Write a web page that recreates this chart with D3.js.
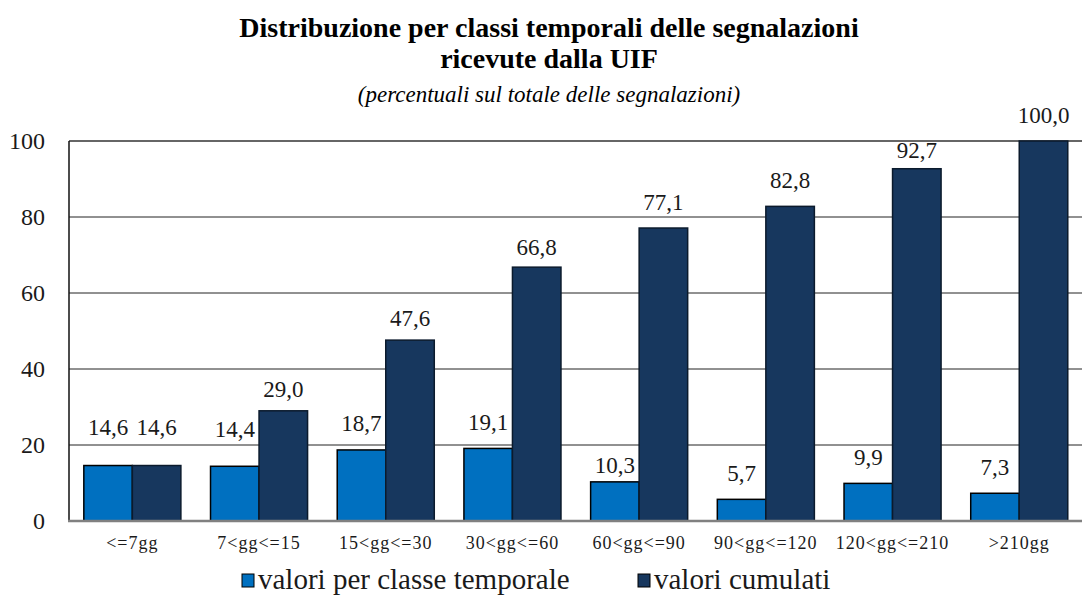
<!DOCTYPE html>
<html>
<head>
    <meta charset="utf-8">
    <script src="https://d3js.org/d3.v7.min.js"></script>
</head>
<body style="margin:0;background:#fff">
<svg id="chart" width="1082" height="599" font-family="'Liberation Serif', 'Times New Roman', Times, serif"></svg>
<script>
    // chart data
    const categories = ["<=7gg", "7<gg<=15", "15<gg<=30", "30<gg<=60", "60<gg<=90", "90<gg<=120", "120<gg<=210", ">210gg"];
    const seriesNames = ["valori per classe temporale", "valori cumulati"];
    const perClass = [14.6, 14.4, 18.7, 19.1, 10.3, 5.7, 9.9, 7.3];
    const cumulative = [14.6, 29.0, 47.6, 66.8, 77.1, 82.8, 92.7, 100.0];
    const yTicks = [0, 20, 40, 60, 80, 100];

    // label lift tweaks (px), as placed in the original
    const liftPerClass = [13, 11, 1, 0, -9, 0, 0, 0];
    const liftCumulative = [13, -4, -4, -6, 0, 0, -7, 0];

    const colors = ["#0070c0", "#17375e"];

    const svg = d3.select("#chart");

    const x0 = d3.scaleBand()
        .domain(categories)
        .range([69, 1082.6])
        .paddingInner(0.234)
        .paddingOuter(0.117);
    const x1 = d3.scaleBand()
        .domain([0, 1])
        .range([0, x0.bandwidth()]);
    const y = d3.scaleLinear()
        .domain([0, 100])
        .range([521, 141]);

    // gridlines
    yTicks.forEach(t => {
        if (t === 0) return;
        svg.append("line")
            .attr("x1", 69).attr("x2", 1082)
            .attr("y1", y(t)).attr("y2", y(t))
            .attr("stroke", t === 100 ? "#333" : "#222")
            .attr("stroke-width", t === 100 ? 1.6 : 1);
    });

    // y axis labels
    yTicks.forEach(t => {
        svg.append("text")
            .attr("x", 45)
            .attr("y", y(t))
            .attr("text-anchor", "end")
            .attr("dominant-baseline", "central")
            .attr("font-size", "24px")
            .attr("fill", "#1a1a1a")
            .text(t);
    });

    // bars
    const series = [perClass, cumulative];
    const lifts = [liftPerClass, liftCumulative];
    series.forEach((vals, s) => {
        vals.forEach((v, i) => {
            const bx = x0(categories[i]) + x1(s);
            svg.append("rect")
                .attr("x", bx)
                .attr("y", y(v))
                .attr("width", x1.bandwidth())
                .attr("height", y(0) - y(v))
                .attr("fill", colors[s])
                .attr("stroke", s === 0 ? "#000" : "#0b1a2c")
                .attr("stroke-width", 1.5);
            svg.append("text")
                .attr("x", bx + x1.bandwidth() / 2)
                .attr("y", y(v) - 18 - lifts[s][i])
                .attr("text-anchor", "middle")
                .attr("font-size", "23px")
                .attr("fill", "#1a1a1a")
                .text(d3.format(".1f")(v).replace(".", ","));
        });
    });

    // axes lines
    svg.append("line")
        .attr("x1", 69).attr("x2", 69)
        .attr("y1", y(100)).attr("y2", y(0))
        .attr("stroke", "#111").attr("stroke-width", 1.5);
    svg.append("line")
        .attr("x1", 68).attr("x2", 1082)
        .attr("y1", y(0)).attr("y2", y(0))
        .attr("stroke", "#808080").attr("stroke-width", 2.5);

    // x labels
    categories.forEach(c => {
        svg.append("text")
            .attr("x", x0(c) + x0.bandwidth() / 2)
            .attr("y", 549)
            .attr("text-anchor", "middle")
            .attr("font-size", "18px")
            .attr("letter-spacing", "1px")
            .attr("fill", "#1a1a1a")
            .text(c);
    });

    // titles
    svg.append("text")
        .attr("x", 549).attr("y", 37)
        .attr("text-anchor", "middle")
        .attr("font-size", "28px")
        .attr("font-weight", "bold")
        .text("Distribuzione per classi temporali delle segnalazioni");
    svg.append("text")
        .attr("x", 549).attr("y", 68)
        .attr("text-anchor", "middle")
        .attr("font-size", "28px")
        .attr("font-weight", "bold")
        .text("ricevute dalla UIF");
    svg.append("text")
        .attr("x", 549).attr("y", 102)
        .attr("text-anchor", "middle")
        .attr("font-size", "23px")
        .attr("font-style", "italic")
        .text("(percentuali sul totale delle segnalazioni)");

    // legend
    const legendX = [242, 638];
    seriesNames.forEach((name, s) => {
        svg.append("rect")
            .attr("x", legendX[s]).attr("y", 574)
            .attr("width", 12).attr("height", 13)
            .attr("fill", colors[s])
            .attr("stroke", "#000").attr("stroke-width", 1);
        svg.append("text")
            .attr("x", legendX[s] + 16)
            .attr("y", 589)
            .attr("font-size", "29px")
            .attr("fill", "#1a1a1a")
            .text(name);
    });
</script>
</body>
</html>
